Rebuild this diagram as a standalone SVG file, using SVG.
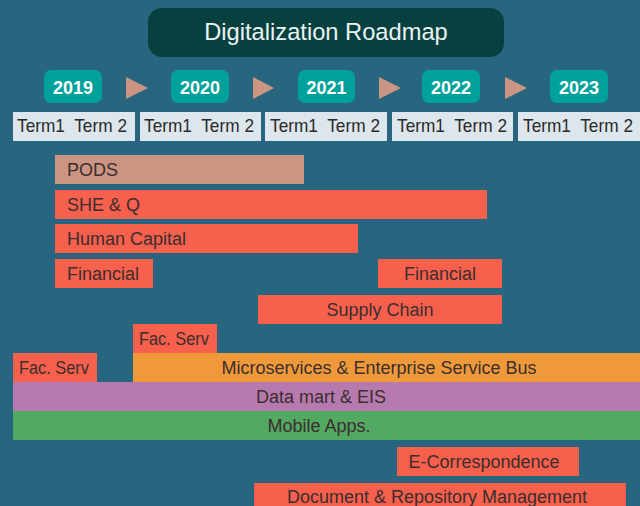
<svg xmlns="http://www.w3.org/2000/svg" width="640" height="506" viewBox="0 0 640 506">
<style>
.lbl{font-family:"Liberation Sans","DejaVu Sans",sans-serif;font-size:18px;fill:#3b2e2e}
.term{font-family:"Liberation Sans","DejaVu Sans",sans-serif;font-size:18.5px;fill:#2a2a2a;white-space:pre}
.yr{font-family:"Liberation Sans","DejaVu Sans",sans-serif;font-size:18px;font-weight:bold;fill:#ffffff;text-anchor:middle}
.pill{fill:#00a19a}
.tri{fill:#cc9482}
.tbox{fill:#dce6ec}
.red{fill:#f6604d}
.mid{text-anchor:middle}
</style>
<rect width="640" height="506" fill="#286680"/>
<g id="title">
<rect x="148" y="8" width="356" height="49" rx="14" fill="#06403f"/>
<text x="326" y="40" text-anchor="middle" font-family="Liberation Sans, DejaVu Sans, sans-serif" font-size="23.7" fill="#ecf2f2">Digitalization Roadmap</text>
</g>
<g id="years">
<g id="y2019"><rect class="pill" x="44" y="70" width="58" height="33" rx="7"/><text class="yr" x="73" y="94">2019</text></g>
<g id="y2020"><rect class="pill" x="171" y="70" width="58" height="33" rx="7"/><text class="yr" x="200" y="94">2020</text></g>
<g id="y2021"><rect class="pill" x="298" y="70" width="57" height="33" rx="7"/><text class="yr" x="326.5" y="94">2021</text></g>
<g id="y2022"><rect class="pill" x="422" y="70" width="58" height="33" rx="7"/><text class="yr" x="451" y="94">2022</text></g>
<g id="y2023"><rect class="pill" x="550" y="70" width="58" height="33" rx="7"/><text class="yr" x="579" y="94">2023</text></g>
</g>
<g id="connectors">
<polygon class="tri" points="126,77 148,88 126,99"/>
<polygon class="tri" points="253,77 274,88 253,99"/>
<polygon class="tri" points="379,77 401,88 379,99"/>
<polygon class="tri" points="505,77 527,88 505,99"/>
</g>
<g id="terms">
<g id="t2019"><rect class="tbox" x="13" y="112" width="122" height="29"/><text class="term" x="17" y="132" textLength="110" lengthAdjust="spacingAndGlyphs">Term1  Term 2</text></g>
<g id="t2020"><rect class="tbox" x="140" y="112" width="121" height="29"/><text class="term" x="144" y="132" textLength="110" lengthAdjust="spacingAndGlyphs">Term1  Term 2</text></g>
<g id="t2021"><rect class="tbox" x="265" y="112" width="122" height="29"/><text class="term" x="270" y="132" textLength="110" lengthAdjust="spacingAndGlyphs">Term1  Term 2</text></g>
<g id="t2022"><rect class="tbox" x="392" y="112" width="121" height="29"/><text class="term" x="397" y="132" textLength="110" lengthAdjust="spacingAndGlyphs">Term1  Term 2</text></g>
<g id="t2023"><rect class="tbox" x="518" y="112" width="122" height="29"/><text class="term" x="523" y="132" textLength="110" lengthAdjust="spacingAndGlyphs">Term1  Term 2</text></g>
</g>
<g id="pods"><rect x="55" y="155" width="249" height="29" fill="#cc9482"/><text class="lbl" x="67" y="176">PODS</text></g>
<g id="sheq"><rect class="red" x="55" y="190" width="432" height="29"/><text class="lbl" x="67" y="211">SHE &amp; Q</text></g>
<g id="hc"><rect class="red" x="55" y="224" width="303" height="29"/><text class="lbl" x="67" y="245">Human Capital</text></g>
<g id="fin1"><rect class="red" x="55" y="259" width="98" height="29"/><text class="lbl" x="67" y="280">Financial</text></g>
<g id="fin2"><rect class="red" x="378" y="259" width="124" height="29"/><text class="lbl mid" x="440" y="280">Financial</text></g>
<g id="supply"><rect class="red" x="258" y="295" width="244" height="29"/><text class="lbl mid" x="380" y="316">Supply Chain</text></g>
<g id="fac1"><rect class="red" x="133" y="324" width="84" height="29"/><text class="lbl" x="139" y="345" textLength="70" lengthAdjust="spacingAndGlyphs">Fac. Serv</text></g>
<g id="fac2"><rect class="red" x="13" y="353" width="84" height="29"/><text class="lbl" x="19" y="374" textLength="70" lengthAdjust="spacingAndGlyphs">Fac. Serv</text></g>
<g id="esb"><rect x="133" y="353" width="507" height="29" fill="#f0993a"/><text class="lbl mid" x="379" y="374">Microservices &amp; Enterprise Service Bus</text></g>
<g id="datamart"><rect x="13" y="382" width="627" height="29" fill="#b77aae"/><text class="lbl mid" x="321" y="403">Data mart &amp; EIS</text></g>
<g id="mobile"><rect x="13" y="411" width="627" height="29" fill="#53a862"/><text class="lbl mid" x="319" y="432">Mobile Apps.</text></g>
<g id="ecorr"><rect class="red" x="397" y="447" width="182" height="29"/><text class="lbl mid" x="484" y="468">E-Correspondence</text></g>
<g id="docrep"><rect class="red" x="254" y="483" width="372" height="29"/><text class="lbl mid" x="437" y="503">Document &amp; Repository Management</text></g>
</svg>
